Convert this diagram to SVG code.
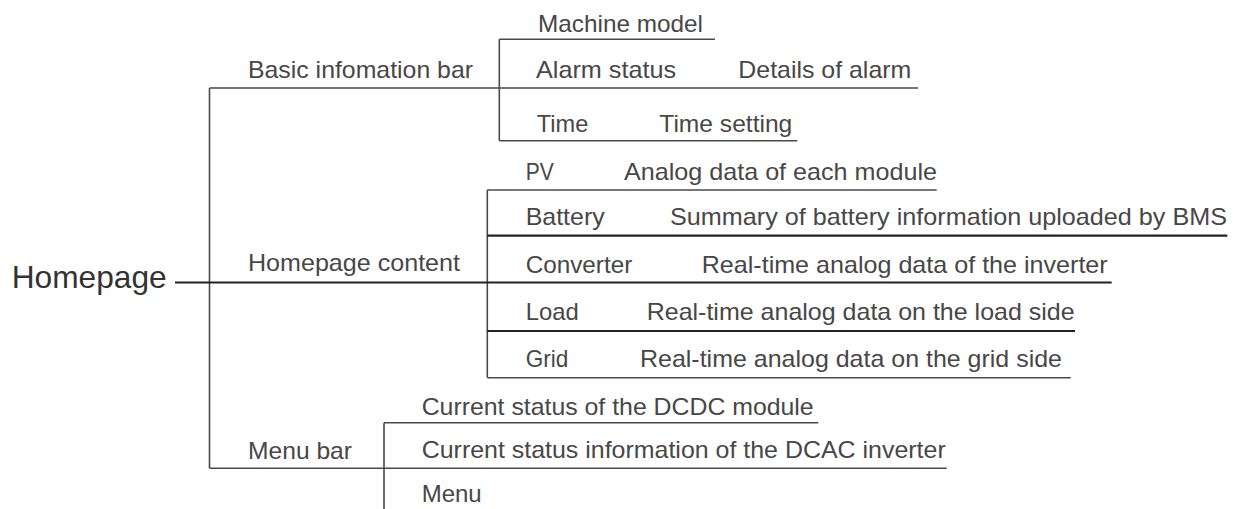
<svg xmlns="http://www.w3.org/2000/svg" width="1238" height="509" viewBox="0 0 1238 509">
<style>
text{font-family:"Liberation Sans",Arial,sans-serif;font-size:24px;fill:#474747}
.root{font-size:31.5px;fill:#333}
.ln{stroke:#4a4a4a;stroke-width:1.6;fill:none}
.dk{stroke:#222;stroke-width:2.2;fill:none}
</style>
<rect width="1238" height="509" fill="#fff"/>
<g id="connectors">
<path class="ln" d="M209.5 88V468.3"/>
<path class="ln" d="M209.5 88H918"/>
<path class="ln" d="M499.3 39.3V140.7"/>
<path class="ln" d="M499.3 39.3H715"/>
<path class="ln" d="M499.3 140.7H797.3"/>
<path class="ln" d="M487.3 190H936.7"/>
<path class="ln" d="M487.3 190V377.7"/>
<path class="dk" d="M487.3 235.7H1227.3"/>
<path class="dk" d="M175 282.5H1111.7"/>
<path class="dk" d="M487.3 331H1075"/>
<path class="ln" d="M487.3 377.7H1070.7"/>
<path class="ln" d="M209.5 468.3H946.7"/>
<path class="ln" d="M384 422.7V509"/>
<path class="ln" d="M384 422.7H818.3"/>
</g>
<g id="homepage"><text class="root" x="11.7" y="287.5" textLength="155" lengthAdjust="spacingAndGlyphs">Homepage</text></g>
<g id="basic-info-bar"><text x="248" y="78.3" textLength="225" lengthAdjust="spacingAndGlyphs">Basic infomation bar</text></g>
<g id="machine-model"><text x="538" y="32.3" textLength="165" lengthAdjust="spacingAndGlyphs">Machine model</text></g>
<g id="alarm-status"><text x="536" y="78.3" textLength="140" lengthAdjust="spacingAndGlyphs">Alarm status</text></g>
<g id="details-alarm"><text x="738.3" y="78.3" textLength="173" lengthAdjust="spacingAndGlyphs">Details of alarm</text></g>
<g id="time"><text x="536.7" y="131.7" textLength="51.6" lengthAdjust="spacingAndGlyphs">Time</text></g>
<g id="time-setting"><text x="659.3" y="131.7" textLength="133" lengthAdjust="spacingAndGlyphs">Time setting</text></g>
<g id="homepage-content"><text x="248" y="270.7" textLength="212" lengthAdjust="spacingAndGlyphs">Homepage content</text></g>
<g id="pv"><text x="525.7" y="180" textLength="28" lengthAdjust="spacingAndGlyphs">PV</text></g>
<g id="pv-detail"><text x="624" y="180" textLength="313" lengthAdjust="spacingAndGlyphs">Analog data of each module</text></g>
<g id="battery"><text x="525.7" y="225" textLength="79" lengthAdjust="spacingAndGlyphs">Battery</text></g>
<g id="battery-detail"><text x="670" y="225" textLength="557" lengthAdjust="spacingAndGlyphs">Summary of battery information uploaded by BMS</text></g>
<g id="converter"><text x="525.7" y="272.5" textLength="106.6" lengthAdjust="spacingAndGlyphs">Converter</text></g>
<g id="converter-detail"><text x="701.7" y="272.5" textLength="406" lengthAdjust="spacingAndGlyphs">Real-time analog data of the inverter</text></g>
<g id="load"><text x="525.7" y="320" textLength="53" lengthAdjust="spacingAndGlyphs">Load</text></g>
<g id="load-detail"><text x="646.7" y="320" textLength="428" lengthAdjust="spacingAndGlyphs">Real-time analog data on the load side</text></g>
<g id="grid"><text x="525.7" y="366.7" textLength="42.6" lengthAdjust="spacingAndGlyphs">Grid</text></g>
<g id="grid-detail"><text x="640" y="366.7" textLength="422" lengthAdjust="spacingAndGlyphs">Real-time analog data on the grid side</text></g>
<g id="menu-bar"><text x="248" y="459.3" textLength="104" lengthAdjust="spacingAndGlyphs">Menu bar</text></g>
<g id="dcdc-status"><text x="421.7" y="415" textLength="392" lengthAdjust="spacingAndGlyphs">Current status of the DCDC module</text></g>
<g id="dcac-status"><text x="421.7" y="458.3" textLength="524" lengthAdjust="spacingAndGlyphs">Current status information of the DCAC inverter</text></g>
<g id="menu"><text x="421.7" y="502.3" textLength="60" lengthAdjust="spacingAndGlyphs">Menu</text></g>
</svg>
